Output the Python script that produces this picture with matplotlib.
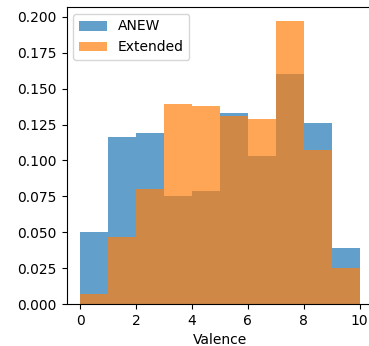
import matplotlib
matplotlib.use("Agg")
import matplotlib.pyplot as plt
import numpy as np

bin_edges = [0, 1, 2, 3, 4, 5, 6, 7, 8, 9, 10]
anew = [0.050, 0.116, 0.119, 0.075, 0.079, 0.133, 0.103, 0.160, 0.126, 0.039]
extended = [0.007, 0.047, 0.080, 0.139, 0.138, 0.131, 0.129, 0.197, 0.107, 0.025]

fig = plt.figure(figsize=(3.69, 3.46), dpi=100)
W, H = 369, 346
ax = fig.add_axes([66.5 / W, (H - 304) / H, (373.5 - 66.5) / W, (304 - 7) / H])

centers = np.array(bin_edges[:-1]) + 0.5
ax.hist(centers, bins=bin_edges, weights=anew, alpha=0.7, label="ANEW")
ax.hist(centers, bins=bin_edges, weights=extended, alpha=0.7, label="Extended")
ax.set_xlabel("Valence")
ax.set_xticks([0, 2, 4, 6, 8, 10])
ax.set_yticks([0, 0.025, 0.05, 0.075, 0.1, 0.125, 0.15, 0.175, 0.2])
ax.legend(loc="upper left")

fig.savefig("out.png", dpi=100)
